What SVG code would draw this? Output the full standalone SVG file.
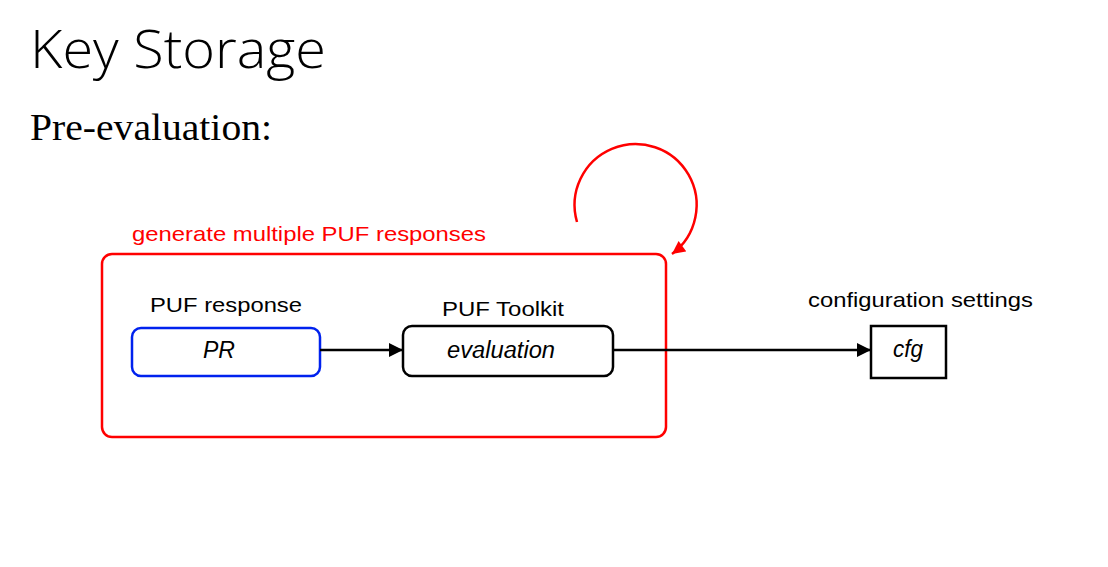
<svg xmlns="http://www.w3.org/2000/svg" width="1108" height="567" viewBox="0 0 1108 567">
<style>
.lbl{font-family:"Liberation Sans",Arial,sans-serif;font-size:21px;fill:#000}
.it{font-family:"Liberation Sans",Arial,sans-serif;font-size:23px;font-style:italic;fill:#000}
.red{fill:#ff0000}
.conn{stroke:#000;stroke-width:2.5;fill:none}
</style>
<defs>
<marker id="ah" viewBox="0 0 10 10" refX="10" refY="5" markerWidth="16" markerHeight="14" markerUnits="userSpaceOnUse" orient="auto">
<path d="M0,0 L10,5 L0,10 Z" fill="#000"/>
</marker>
<marker id="ahr" viewBox="0 0 10 10" refX="10" refY="5" markerWidth="14" markerHeight="13" markerUnits="userSpaceOnUse" orient="auto">
<path d="M0,0 L10,5 L0,10 Z" fill="#ff0000"/>
</marker>
</defs>
<rect width="1108" height="567" fill="#fff"/>
<text x="30" y="68" font-family="'Open Sans',sans-serif" font-weight="300" font-size="54" textLength="296" lengthAdjust="spacingAndGlyphs">Key Storage</text>
<text x="30" y="140" font-family="'Liberation Serif','Times New Roman',serif" font-size="38" textLength="242" lengthAdjust="spacingAndGlyphs">Pre-evaluation:</text>
<g id="loop">
<rect x="102" y="254" width="564" height="183" rx="10" fill="none" stroke="#ff0000" stroke-width="2.5"/>
<text class="lbl red" x="132" y="241" font-size="22" textLength="354" lengthAdjust="spacingAndGlyphs">generate multiple PUF responses</text>
<path d="M577 222 A61 61 0 1 1 672 254" fill="none" stroke="#ff0000" stroke-width="2.5" marker-end="url(#ahr)"/>
</g>
<g id="pr">
<text class="lbl" x="150" y="312" textLength="152" lengthAdjust="spacingAndGlyphs">PUF response</text>
<rect x="132" y="328" width="188" height="48" rx="9" fill="#fff" stroke="#0022ee" stroke-width="2.5"/>
<text class="it" x="203" y="358" textLength="32" lengthAdjust="spacingAndGlyphs">PR</text>
</g>
<g id="toolkit">
<text class="lbl" x="442" y="316" textLength="122" lengthAdjust="spacingAndGlyphs">PUF Toolkit</text>
<rect x="403" y="326" width="210" height="50" rx="9" fill="#fff" stroke="#000" stroke-width="2.5"/>
<text class="it" x="447" y="358" textLength="108" lengthAdjust="spacingAndGlyphs">evaluation</text>
</g>
<g id="cfg">
<text class="lbl" x="808" y="307" textLength="225" lengthAdjust="spacingAndGlyphs">configuration settings</text>
<rect x="871" y="326" width="75" height="52" fill="#fff" stroke="#000" stroke-width="2.5"/>
<text class="it" x="893" y="357" textLength="30" lengthAdjust="spacingAndGlyphs">cfg</text>
</g>
<g id="connectors">
<line class="conn" x1="320" y1="350" x2="403" y2="350" marker-end="url(#ah)"/>
<line class="conn" x1="613" y1="350" x2="871" y2="350" marker-end="url(#ah)"/>
</g>
</svg>
